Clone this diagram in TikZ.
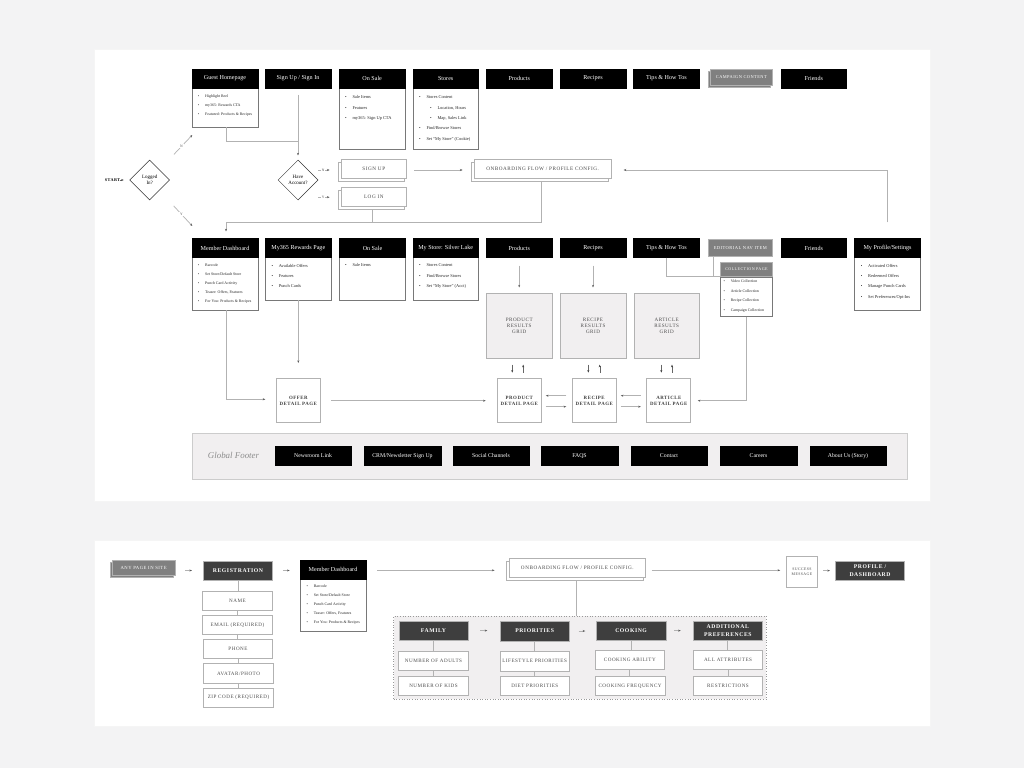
\documentclass[tikz,border=0pt]{standalone}
\usepackage{fontspec}
\setmainfont{Liberation Serif}
\newfontfamily\capsfont[LetterSpace=10]{Liberation Serif}
\definecolor{pagebg}{RGB}{243, 243, 244}
\definecolor{gridfill}{RGB}{241, 239, 240}
\definecolor{linegray}{RGB}{178, 178, 178}
\definecolor{edgegray}{RGB}{120, 120, 120}
\definecolor{midgray}{RGB}{128, 128, 128}
\definecolor{darkbox}{RGB}{62, 62, 62}
\definecolor{captext}{RGB}{75, 75, 75}
\usetikzlibrary{arrows.meta,positioning,shapes.geometric,shadows}
\newcommand{\bul}[1]{\makebox[7.3pt][l]{\textbullet}#1}
\tikzset{
    navbox/.style={fill=black, draw=black, line width=0.4pt, text=white, inner sep=0pt,
        minimum width=65.7pt, minimum height=18.8pt, font=\fontsize{6.1}{7}\selectfont},
    bodybox/.style={fill=white, draw=edgegray, line width=0.7pt, inner sep=0pt, minimum width=65.7pt},
    footbox/.style={navbox, minimum width=76.5pt, font=\fontsize{5.8}{7}\selectfont},
    greynav/.style={fill=midgray, draw=linegray, line width=0.5pt, text=white, inner sep=0pt,
        font=\capsfont\fontsize{4.4}{5}\selectfont},
    greystack/.style={greynav, copy shadow={shadow xshift=-2pt, shadow yshift=-2pt, fill=midgray, draw=linegray}},
    stackbox/.style={fill=white, draw=linegray, line width=0.7pt, inner sep=0pt, text=captext,
        minimum height=19pt, font=\capsfont\fontsize{5.2}{6}\selectfont,
        copy shadow={shadow xshift=-2.7pt, shadow yshift=-2.7pt, fill=white, draw=linegray}},
    gridbox/.style={fill=gridfill, draw=linegray, line width=0.7pt, inner sep=0pt, align=center, text=captext,
        minimum width=65.7pt, minimum height=65pt, font=\capsfont\fontsize{5.1}{6.4}\selectfont},
    pagebox/.style={fill=white, draw=linegray, line width=0.7pt, inner sep=0pt, align=center, text=black!75,
        minimum width=44pt, minimum height=44pt, font=\capsfont\bfseries\fontsize{4.9}{6.4}\selectfont},
    formbox/.style={fill=white, draw=linegray, line width=0.7pt, inner sep=0pt, text=captext,
        minimum width=69.5pt, minimum height=19.2pt, font=\capsfont\fontsize{5.1}{6}\selectfont},
    darkhead/.style={fill=darkbox, draw=linegray, line width=0.3pt, text=white, inner sep=0pt, align=center,
        minimum width=69.2pt, minimum height=19.7pt, font=\capsfont\bfseries\fontsize{5.7}{8}\selectfont},
    decision/.style={diamond, aspect=1, draw=black!80, fill=white, line width=0.5pt, inner sep=0pt, align=center,
        minimum width=40pt, minimum height=40pt, font=\fontsize{5}{6.2}\selectfont},
    smalllist/.style={anchor=north west, inner sep=0pt, align=left, text=black!85, font=\fontsize{3.9}{9}\selectfont},
    biglist/.style={anchor=north west, inner sep=0pt, align=left, text=black!85, font=\fontsize{4.4}{10.4}\selectfont},
    colllist/.style={anchor=north west, inner sep=0pt, align=left, text=black!85, font=\fontsize{3.9}{9.6}\selectfont},
    tinylabel/.style={fill=white, inner sep=0.8pt, text=black!70, font=\fontsize{3.6}{4}\selectfont},
    plainline/.style={draw=linegray, line width=0.7pt},
    flow/.style={plainline, -{Stealth[length=2.6pt, width=2pt, color=black!65]}},
    shortflow/.style={draw=black!60, line width=0.4pt, -{Stealth[length=2.6pt, width=2pt, color=black!75]}},
}

\begin{document}
\begin{tikzpicture}[x=1pt, y=-1pt]
    % page and panels
    \fill[pagebg] (0,0) rectangle (1024,768);
    \draw[fill=white, draw=black!4] (94,49) rectangle (930,501);
    \draw[fill=white, draw=black!4] (94,540) rectangle (930,726);

    % first row
    \node[bodybox, minimum height=38.5pt, anchor=north] (guestbody) at (225,88) {};
    \node[bodybox, minimum height=61pt, anchor=north] (salebody) at (372.2,88) {};
    \node[bodybox, minimum height=61pt, anchor=north] (storesbody) at (445.7,88) {};
    \foreach \x/\name/\txt in {225/guest/Guest Homepage, 298/signin/{Sign Up / Sign In}, 372.2/sale/On Sale,
        445.7/stores/Stores, 519.2/products/Products, 593/recipes/Recipes, 666.5/tips/Tips \& How Tos, 813.8/friends/Friends}
        \node[navbox] (\name) at (\x,78.5) {\txt};
    \node[greystack, minimum width=62.7pt, minimum height=16pt] (campaign) at (741.3,77) {CAMPAIGN CONTENT};
    \node[smalllist] (guestlist) at (197.7,95) {\bul{Highlight Reel}\\\bul{my365: Rewards CTA}\\\bul{Featured: Products \& Recipes}};
    \node[biglist] (salelist) at (345,95.5) {\bul{Sale Items}\\\bul{Features}\\\bul{my365: Sign Up CTA}};
    \node[biglist] (storeslist) at (419,95.5) {\bul{Stores Content}\\\hspace*{11pt}\bul{Location, Hours}\\\hspace*{11pt}\bul{Map, Sales Link}\\\bul{Find/Browse Stores}\\\bul{Set ``My Store'' (Cookie)}};

    % decisions
    \node[inner sep=0pt, text=black, font=\capsfont\bfseries\fontsize{4.2}{5}\selectfont] (start) at (112.5,180) {START};
    \node[decision] (logged) at (149.7,180) {Logged\\In?};
    \node[decision] (have) at (298,180) {Have\\Account?};
    \node[stackbox, minimum width=65.7pt] (signup) at (373.8,168.8) {SIGN UP};
    \node[stackbox, minimum width=65.7pt] (login) at (373.8,197.2) {LOG IN};
    \node[stackbox, minimum width=136.7pt] (onboard) at (542.6,168.8) {ONBOARDING FLOW / PROFILE CONFIG.};
    \coordinate (guestend) at (192.3,135);
    \coordinate (memberend) at (192.3,226);
    \coordinate (guestjoin) at (298,141);
    \coordinate (memberjoin) at (226,222.7);

    \draw[shortflow, shorten >=5.7pt] (start) -- (logged);
    \draw[flow, shorten <=21pt] (logged) -- (guestend) node[tinylabel, pos=0.67] (nfirst) {N};
    \draw[flow, shorten <=21pt] (logged) -- (memberend) node[tinylabel, pos=0.67] (yfirst) {Y};
    \draw[plainline] ([xshift=1pt]guestbody.south) |- (guestjoin);
    \draw[flow, shorten <=6.7pt, shorten >=4.3pt] (signin.south) -- (have.north);
    \draw[flow, shorten >=11pt] ([yshift=-1.2pt]signup.west -| have.east) -- ([yshift=-1.2pt]signup.west) node[tinylabel, pos=0.22] (nsecond) {N};
    \draw[flow, shorten >=11pt] (login.west -| have.east) -- (login.west) node[tinylabel, pos=0.22] (ysecond) {Y};
    \draw[flow, shorten <=7.3pt, shorten >=11.3pt] ([yshift=-1.2pt]signup.east) -- ([yshift=-1.2pt]onboard.west);
    \draw[plainline, shorten <=2.7pt] ([xshift=-1.5pt]login.south) |- (memberjoin);
    \draw[plainline, shorten <=2.7pt] ([xshift=-1pt]onboard.south) |- (memberjoin);

    % second row
    \node[bodybox, minimum height=52.5pt, anchor=north] (memberbody) at (225,257) {};
    \node[bodybox, minimum height=42.5pt, anchor=north] (rewardsbody) at (298.3,257) {};
    \node[bodybox, minimum height=42.5pt, anchor=north] (sale2body) at (372.5,257) {};
    \node[bodybox, minimum height=42.5pt, anchor=north] (storebody) at (445.7,257) {};
    \node[bodybox, minimum height=52.5pt, anchor=north] (profilebody) at (887.5,257) {};
    \foreach \x/\name/\txt in {225/member/Member Dashboard, 298.3/rewards/My365 Rewards Page, 372.5/sale2/On Sale,
        445.7/store/My Store: Silver Lake, 519.2/products2/Products, 593/recipes2/Recipes, 666.5/tips2/Tips \& How Tos,
        813.8/friends2/Friends, 887.5/profile/{My Profile/Settings}}
        \node[navbox] (\name) at (\x,248) {\txt};
    \node[greynav, minimum width=64.5pt, minimum height=17.7pt, font=\capsfont\fontsize{4.5}{5}\selectfont] (editorial) at (740.3,247.8) {EDITORIAL NAV ITEM};
    \node[bodybox, minimum width=51.6pt, minimum height=39.8pt, anchor=north] (collbody) at (746.5,276.5) {};
    \node[greynav, minimum width=51.6pt, minimum height=14.2pt, font=\capsfont\fontsize{4.1}{5}\selectfont, anchor=south] (coll) at (746.5,276.5) {COLLECTION PAGE};
    \node[smalllist] (memberlist) at (197.7,263.5) {\bul{Barcode}\\\bul{Set Store/Default Store}\\\bul{Punch Card Activity}\\\bul{Teaser: Offers, Features}\\\bul{For You: Products \& Recipes}};
    \node[biglist] (rewardslist) at (271.3,263.7) {\bul{Available Offers}\\\bul{Features}\\\bul{Punch Cards}};
    \node[biglist] (sale2list) at (345,263.7) {\bul{Sale Items}};
    \node[biglist] (storelist) at (419,263.7) {\bul{Stores Content}\\\bul{Find/Browse Stores}\\\bul{Set ``My Store'' (Acct)}};
    \node[biglist] (profilelist) at (860.7,263.7) {\bul{Activated Offers}\\\bul{Redeemed Offers}\\\bul{Manage Punch Cards}\\\bul{Set Preferences/Opt-Ins}};
    \node[colllist] (colllist) at (723.3,279.5) {\bul{Video Collection}\\\bul{Article Collection}\\\bul{Recipe Collection}\\\bul{Campaign Collection}};

    % grids and detail pages
    \node[gridbox] (prodgrid) at (519.2,325.8) {PRODUCT\\RESULTS\\GRID};
    \node[gridbox] (recipegrid) at (593,325.8) {RECIPE\\RESULTS\\GRID};
    \node[gridbox] (articlegrid) at (666.7,325.8) {ARTICLE\\RESULTS\\GRID};
    \node[pagebox] (offer) at (298.3,400.7) {OFFER\\DETAIL PAGE};
    \node[pagebox] (proddetail) at (519.3,400.7) {PRODUCT\\DETAIL PAGE};
    \node[pagebox] (recipedetail) at (594.2,400.7) {RECIPE\\DETAIL PAGE};
    \node[pagebox] (articledetail) at (668.8,400.7) {ARTICLE\\DETAIL PAGE};

    \draw[flow, shorten <=16pt, shorten >=12.3pt] (profile.north) |- ([yshift=-1.2pt]onboard.east);
    \draw[flow, shorten >=7pt] (memberjoin) -- (memberjoin |- member.north);
    \draw[flow, shorten >=10.6pt] ([xshift=1pt]memberbody.south) |- ([yshift=1.4pt]offer.west);
    \draw[flow, shorten >=15.4pt] (rewardsbody.south) -- (rewardsbody.south |- offer.north);
    \draw[flow, shorten <=10.7pt, shorten >=11.3pt] (offer.east) -- (proddetail.west);
    \draw[flow, shorten <=8pt, shorten >=5.5pt] (products2.south) -- (products2.south |- prodgrid.north);
    \draw[flow, shorten <=8pt, shorten >=5.5pt] (recipes2.south) -- (recipes2.south |- recipegrid.north);
    \foreach \a/\b/\dn/\up in {prodgrid/proddetail/-7/4, recipegrid/recipedetail/-4.7/6.7, articlegrid/articledetail/-5.4/5.3} {
        \draw[shortflow, shorten <=6pt, shorten >=5.7pt] ([xshift=\dn pt]\a.south) -- ([xshift=\dn pt]\a.south |- \b.north);
        \draw[shortflow, shorten <=5.7pt, shorten >=6pt] ([xshift=\up pt]\a.south |- \b.north) -- ([xshift=\up pt]\a.south);
    }
    \foreach \a/\b in {proddetail/recipedetail, recipedetail/articledetail} {
        \draw[flow, shorten <=5.6pt, shorten >=4.2pt] ([yshift=5pt]\b.west) -- ([yshift=5pt]\a.east);
        \draw[flow, shorten <=4.2pt, shorten >=5.6pt] ([yshift=-6pt]\a.east) -- ([yshift=-6pt]\b.west);
    }
    \draw[flow, shorten >=6.6pt] (collbody.south) |- (articledetail.east);
    \draw[plainline] (tips2.south) |- (collbody.north west);
    \draw[plainline] ([xshift=5.3pt]editorial.south west) -- ([xshift=5.3pt]editorial.south west |- collbody.north west);

    % footer
    \node[rectangle, fill=gridfill, draw=black!20, line width=0.6pt, minimum width=715pt, minimum height=46pt] (footer) at (549.5,456) {};
    \node[text=black!45, font=\itshape\fontsize{8.9}{11}\selectfont, inner sep=0pt] (footertitle) at (233.5,455) {Global Footer};
    \foreach \x/\name/\txt in {313/newsroom/Newsroom Link, 402.5/crm/{CRM/Newsletter Sign Up}, 491/social/Social Channels,
        579.5/faqs/FAQS, 669/contact/Contact, 758.5/careers/Careers, 848/about/About Us (Story)}
        \node[footbox] (\name) at (\x,456) {\txt};

    % second panel
    \node[greystack, minimum width=62.7pt, minimum height=15pt, font=\capsfont\fontsize{4.7}{5}\selectfont] (anypage) at (143.6,567.5) {ANY PAGE IN SITE};
    \node[darkhead] (registration) at (238,570.5) {REGISTRATION};
    \node[formbox] (name) at (237.5,600.6) {NAME};
    \node[formbox] (email) at (237.5,624.8) {EMAIL (REQUIRED)};
    \node[formbox] (phone) at (238,649) {PHONE};
    \node[formbox] (avatar) at (238.5,673.4) {AVATAR/PHOTO};
    \node[formbox] (zip) at (238.5,697.5) {ZIP CODE (REQUIRED)};
    \node[bodybox, minimum height=52pt, anchor=north] (dashbody) at (333,579.3) {};
    \node[navbox] (dash) at (333,569.9) {Member Dashboard};
    \node[smalllist] (dashlist) at (306.3,585) {\bul{Barcode}\\\bul{Set Store/Default Store}\\\bul{Punch Card Activity}\\\bul{Teaser: Offers, Features}\\\bul{For You: Products \& Recipes}};
    \node[stackbox, minimum width=136.7pt] (onboard2) at (577.3,568.3) {ONBOARDING FLOW / PROFILE CONFIG.};
    \node[rectangle, fill=white, draw=linegray, line width=0.7pt, inner sep=0pt, align=center, text=captext,
        minimum width=31.4pt, minimum height=30.8pt, font=\capsfont\fontsize{3.9}{5.3}\selectfont] (success) at (802,571.8) {SUCCESS\\MESSAGE};
    \node[darkhead] (profiledash) at (870,570.6) {PROFILE /\\DASHBOARD};

    \draw[flow, shorten <=10pt, shorten >=11.3pt] (registration.west -| anypage.east) -- (registration.west);
    \draw[flow, shorten <=10pt, shorten >=10.3pt] (registration.east) -- (registration.east -| dash.west);
    \draw[flow, shorten <=11pt, shorten >=14.1pt] ([yshift=-2pt]onboard2.west -| dash.east) -- ([yshift=-2pt]onboard2.west);
    \draw[flow, shorten <=5.8pt, shorten >=5.8pt] ([yshift=-2pt]onboard2.east) -- ([yshift=-2pt]onboard2.east -| success.west);
    \draw[flow, shorten <=5.3pt, shorten >=5.3pt] (profiledash.west -| success.east) -- (profiledash.west);
    \foreach \a/\b in {registration/name, name/email, email/phone, phone/avatar, avatar/zip}
        \draw[plainline] (\a.south) -- (\a.south |- \b.north);

    % onboarding group
    \node[rectangle, fill=gridfill, draw=black!40, dotted, line width=0.6pt, minimum width=372.5pt, minimum height=83.4pt] (group) at (580,657.7) {};
    \draw[plainline, shorten <=2.7pt] ([xshift=-1.3pt]onboard2.south) -- ([xshift=-1.3pt]onboard2.south |- group.north);
    \node[darkhead] (family) at (433.5,630.6) {FAMILY};
    \node[darkhead] (priorities) at (534.6,631) {PRIORITIES};
    \node[darkhead] (cooking) at (631.1,630.6) {COOKING};
    \node[darkhead] (additional) at (727.8,630.6) {ADDITIONAL\\PREFERENCES};
    \foreach \x/\y/\name/\txt in {433.5/660.5/adults/NUMBER OF ADULTS, 433.5/685.6/kids/NUMBER OF KIDS,
        534.6/661.3/lifestyle/LIFESTYLE PRIORITIES, 534.8/685.8/diet/DIET PRIORITIES,
        629.8/660.2/ability/COOKING ABILITY, 630.1/685.8/frequency/COOKING FREQUENCY,
        728/660.2/attributes/ALL ATTRIBUTES, 728/685.8/restrictions/RESTRICTIONS}
        \node[formbox] (\name) at (\x,\y) {\txt};
    \foreach \a/\b in {family/adults, adults/kids, priorities/lifestyle, lifestyle/diet, cooking/ability, ability/frequency, additional/attributes, attributes/restrictions}
        \draw[plainline] (\a.south) -- (\a.south |- \b.north);
    \foreach \a/\b/\s/\t in {family/priorities/12.2/12.5, priorities/cooking/9.2/11.1, cooking/additional/8.4/12.3}
        \draw[flow, shorten <=\s pt, shorten >=\t pt] (\a.east) -- (\a.east -| \b.west);
\end{tikzpicture}
\end{document}
